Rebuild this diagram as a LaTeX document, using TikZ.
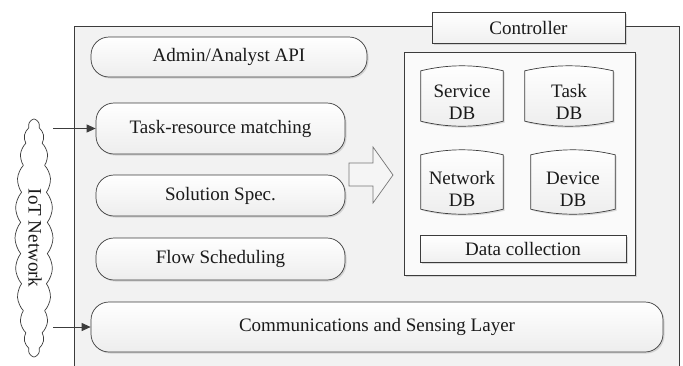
\documentclass[tikz,border=0pt]{standalone}
\usepackage{fontspec}
\setmainfont{Liberation Serif}
\usetikzlibrary{shapes.symbols,arrows.meta,shadows,calc}
\definecolor{edge}{HTML}{3C3C3C}
\definecolor{panel}{HTML}{F2F2F2}
\definecolor{ink}{HTML}{1A1A1A}
\tikzset{
  lbl/.style={font=\fontsize{19}{22}\selectfont, text=ink, align=center, inner sep=0pt},
  softshadow/.style={drop shadow={shadow xshift=1.5pt, shadow yshift=-1.5pt, opacity=0.22, fill=black!60}},
  pill/.style={lbl, draw=edge, line width=0.7pt, rounded corners=18pt, top color=white, bottom color=black!7, softshadow},
  flatbox/.style={lbl, draw=edge, line width=0.7pt, top color=white, bottom color=black!6, softshadow},
  drumline/.style={draw=edge, line width=0.7pt, top color=white, bottom color=black!7, softshadow},
  feed/.style={draw=edge, line width=1pt, -{Triangle[length=9pt,width=8pt]}},
}
% database drum drawn around an empty placeholder node
% (picture y grows downwards): straight sides, bottom bulging down, top bulging up
\newcommand\drum[1]{%
  \path[drumline] ($(#1.north west)+(0,5)$) -- ($(#1.south west)+(0,-5)$)
    .. controls ($(#1.south west)!0.33!(#1.south east)+(0,1.67)$)
       and ($(#1.south west)!0.67!(#1.south east)+(0,1.67)$) .. ($(#1.south east)+(0,-5)$)
    -- ($(#1.north east)+(0,5)$)
    .. controls ($(#1.north east)!0.33!(#1.north west)+(0,-1.67)$)
       and ($(#1.north east)!0.67!(#1.north west)+(0,-1.67)$) .. ($(#1.north west)+(0,5)$)
    -- cycle;}
\begin{document}
\begin{tikzpicture}[x=1pt,y=-1pt]
  \clip (0,0) rectangle (683,365);
  \fill[white] (0,0) rectangle (683,365);

  % controller frame
  \draw[edge, line width=0.7pt, fill=panel] (74,26) rectangle (679,380);
  \node[flatbox, minimum width=193pt, minimum height=31pt] (ctrl) at (528.5,27.5) {Controller};

  % database panel
  \draw[edge, line width=0.7pt, fill=panel!40!white, softshadow] (404,52) rectangle (635,275);

  \path node[minimum width=82pt, minimum height=60pt, inner sep=0pt] (svc) at (462,96) {};
  \path node[minimum width=88pt, minimum height=60pt, inner sep=0pt] (tsk) at (569,96) {};
  \path node[minimum width=82pt, minimum height=64pt, inner sep=0pt] (net) at (462,182) {};
  \path node[minimum width=84pt, minimum height=64pt, inner sep=0pt] (dev) at (573,182) {};
  \drum{svc}\drum{tsk}\drum{net}\drum{dev}
  \node[lbl] (svc-t) at (462,102) {Service\\DB};
  \node[lbl] (tsk-t) at (569,102) {Task\\DB};
  \node[lbl] (net-t) at (462,189) {Network\\DB};
  \node[lbl] (dev-t) at (573,189) {Device\\DB};

  \node[flatbox, minimum width=206pt, minimum height=27pt] (dc) at (523,248.5) {Data collection};

  % functional blocks
  \node[pill, minimum width=276pt, minimum height=40pt] (admin) at (229,57) {Admin/Analyst API};
  \node[pill, minimum width=249pt, minimum height=51pt] (task) at (220.5,128.5) {Task-resource matching};
  \node[pill, minimum width=249pt, minimum height=41pt] (sol) at (220.5,195.5) {Solution Spec.};
  \node[pill, minimum width=249pt, minimum height=42pt] (flow) at (220.5,259) {Flow Scheduling};
  \node[pill, minimum width=572pt, minimum height=50pt] (comm) at (377,327) {Communications and Sensing Layer};

  % hollow arrow towards the databases
  \draw[edge!70, line width=0.7pt, fill=white!96!black]
    (349,163) -- (373,163) -- (373,147) -- (393,175) -- (373,203) -- (373,186) -- (349,186) -- cycle;

  % IoT network cloud
  \node[cloud, draw=edge, line width=0.7pt, fill=white, cloud puffs=24, cloud puff arc=80,
        aspect=0.16, minimum width=38pt, minimum height=238pt, inner sep=0pt] (iot) at (34,238) {};
  \node[lbl, rotate=-90] (iot-t) at (35,238) {IoT Network};

  \draw[feed] (iot.east |- task.west) -- (task.west);
  \draw[feed] (iot.east |- comm.west) -- (comm.west);
\end{tikzpicture}
\end{document}
